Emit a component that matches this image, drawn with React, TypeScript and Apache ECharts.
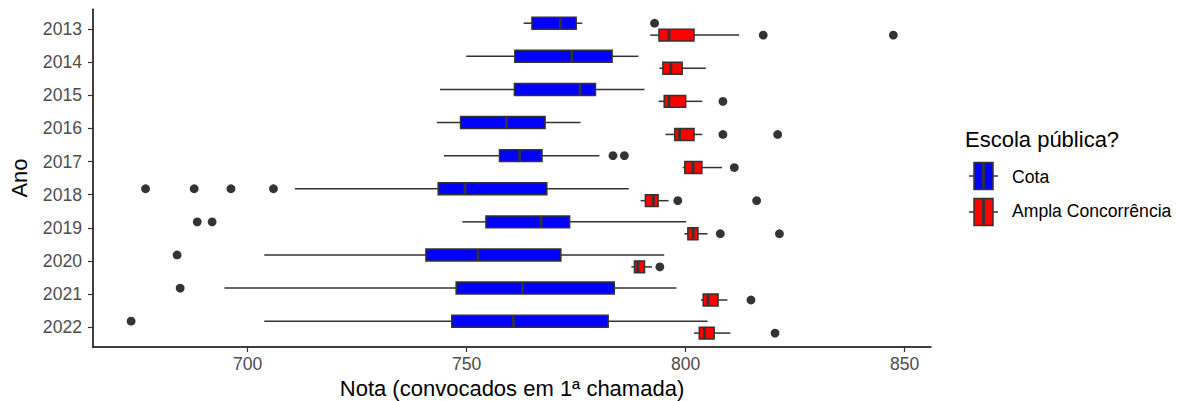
import React, { useEffect, useRef } from "react";
import * as echarts from "echarts";

const years = ["2013", "2014", "2015", "2016", "2017", "2018", "2019", "2020", "2021", "2022"];
const xTicks = [700, 750, 800, 850];

// [low whisker, Q1, median, Q3, high whisker] per year
const cotaStats: number[][] = [
  [763.0, 764.9, 771.4, 775.0, 776.4],
  [749.9, 761.0, 774.0, 783.2, 789.2],
  [743.9, 760.9, 775.9, 779.4, 790.6],
  [743.2, 748.6, 759.1, 767.9, 776.0],
  [744.8, 757.5, 762.1, 767.2, 780.3],
  [710.8, 743.5, 749.6, 768.3, 787.0],
  [749.0, 754.4, 767.0, 773.5, 800.1],
  [703.8, 740.7, 752.6, 771.5, 795.1],
  [694.7, 747.6, 762.8, 783.7, 797.9],
  [703.8, 746.6, 760.7, 782.3, 805.0],
];
const amplaStats: number[][] = [
  [791.9, 793.9, 796.2, 801.9, 812.2],
  [794.0, 794.8, 796.6, 799.2, 804.6],
  [793.8, 795.1, 796.2, 800.0, 803.8],
  [795.4, 797.5, 798.6, 801.9, 803.8],
  [799.3, 799.8, 801.7, 803.7, 808.3],
  [789.7, 790.8, 792.6, 793.7, 796.1],
  [799.7, 800.5, 801.7, 802.8, 805.0],
  [787.6, 788.3, 789.1, 790.6, 792.3],
  [803.5, 804.0, 805.1, 807.4, 809.5],
  [801.9, 803.1, 804.3, 806.5, 810.2],
];
const cotaOutliers: number[][] = [
  [792.9], [], [], [], [783.4, 786.0],
  [676.7, 687.8, 696.2, 705.9], [688.5, 691.9], [683.9], [684.6], [673.4],
];
const amplaOutliers: number[][] = [
  [817.7, 847.4], [], [808.5], [808.5, 821.0], [811.1],
  [798.2, 816.2], [807.9, 821.4], [794.1], [814.9], [820.4],
];

const BLUE = "#0000FF";
const RED = "#FF0000";
const DARK = "#333333";
const FONT = "'Liberation Sans', Arial, sans-serif";
const HALF = 0.18;
const LW = 1.5;

function boxSeries(name: string, stats: number[][], offset: number, color: string) {
  return {
    type: "custom",
    name,
    data: stats.map((s, i) => [i, ...s]),
    encode: { x: [1, 2, 3, 4, 5], y: 0 },
    renderItem: (_p: any, api: any) => {
      const yc = api.value(0) + offset;
      const pl = api.coord([api.value(1), yc]);
      const p1 = api.coord([api.value(2), yc]);
      const pm = api.coord([api.value(3), yc]);
      const p3 = api.coord([api.value(4), yc]);
      const ph = api.coord([api.value(5), yc]);
      const t = api.coord([api.value(2), yc - HALF])[1];
      const b = api.coord([api.value(2), yc + HALF])[1];
      const top = Math.min(t, b);
      const h = Math.abs(b - t);
      return {
        type: "group",
        children: [
          { type: "line", shape: { x1: pl[0], y1: pl[1], x2: p1[0], y2: p1[1] }, style: { stroke: DARK, lineWidth: LW } },
          { type: "line", shape: { x1: p3[0], y1: p3[1], x2: ph[0], y2: ph[1] }, style: { stroke: DARK, lineWidth: LW } },
          { type: "rect", shape: { x: p1[0], y: top, width: p3[0] - p1[0], height: h }, style: { fill: color, stroke: DARK, lineWidth: LW } },
          { type: "line", shape: { x1: pm[0], y1: top, x2: pm[0], y2: top + h }, style: { stroke: DARK, lineWidth: 2.8 } },
        ],
      };
    },
  };
}

function outlierSeries(name: string, outs: number[][], offset: number) {
  const data: number[][] = [];
  outs.forEach((arr, i) => arr.forEach((v) => data.push([v, i])));
  return {
    type: "custom",
    name,
    data,
    encode: { x: 0, y: 1 },
    renderItem: (_p: any, api: any) => {
      const p = api.coord([api.value(0), api.value(1) + offset]);
      return { type: "circle", shape: { cx: p[0], cy: p[1], r: 4.4 }, style: { fill: DARK } };
    },
  };
}

function legendKey(y: number, color: string) {
  const x0 = 974, w = 19, h = 27;
  return [
    { type: "line", shape: { x1: 969, y1: y, x2: x0, y2: y }, style: { stroke: DARK, lineWidth: LW } },
    { type: "line", shape: { x1: x0 + w, y1: y, x2: 998, y2: y }, style: { stroke: DARK, lineWidth: LW } },
    { type: "rect", shape: { x: x0, y: y - h / 2, width: w, height: h }, style: { fill: color, stroke: DARK, lineWidth: LW } },
    { type: "line", shape: { x1: x0 + w / 2, y1: y - h / 2, x2: x0 + w / 2, y2: y + h / 2 }, style: { stroke: DARK, lineWidth: 2.8 } },
  ];
}

export default function App() {
  const ref = useRef<HTMLDivElement>(null);
  useEffect(() => {
    document.body.style.margin = "0";
    if (!ref.current) return;
    const chart = echarts.init(ref.current, null, { renderer: "svg" });
    chart.setOption({
      animation: false,
      backgroundColor: "#FFFFFF",
      grid: { left: 93, right: 251, top: 9.3, bottom: 54 },
      xAxis: {
        type: "value",
        position: "bottom",
        min: 664.7,
        max: 856,
        splitLine: { show: false },
        axisLine: { show: true, onZero: false, lineStyle: { color: "#000", width: 1.5 } },
        axisTick: { show: true, length: 5, customValues: xTicks, lineStyle: { color: DARK, width: 1.2 } },
        axisLabel: { customValues: xTicks, color: "#4D4D4D", fontSize: 17.6, fontFamily: FONT, margin: 8 },
      },
      yAxis: {
        type: "value",
        position: "left",
        inverse: true,
        min: -0.6,
        max: 9.6,
        splitLine: { show: false },
        axisLine: { show: true, onZero: false, lineStyle: { color: "#000", width: 1.5 } },
        axisTick: { show: true, length: 5, customValues: years.map((_, i) => i), lineStyle: { color: DARK, width: 1.2 } },
        axisLabel: {
          customValues: years.map((_, i) => i),
          formatter: (v: number) => years[Math.round(v)],
          color: "#4D4D4D",
          fontSize: 17.6,
          fontFamily: FONT,
          margin: 11,
        },
      },
      graphic: [
        { type: "text", x: 19, y: 178, rotation: Math.PI / 2, style: { text: "Ano", fontSize: 22, fontFamily: FONT, fill: "#000", align: "center", verticalAlign: "middle" } },
        { type: "text", x: 512, y: 388, style: { text: "Nota (convocados em 1ª chamada)", fontSize: 22, fontFamily: FONT, fill: "#000", align: "center", verticalAlign: "middle" } },
        { type: "text", x: 965, y: 139, style: { text: "Escola pública?", fontSize: 22, fontFamily: FONT, fill: "#000", align: "left", verticalAlign: "middle" } },
        ...legendKey(176, BLUE),
        ...legendKey(212, RED),
        { type: "text", x: 1012, y: 177, style: { text: "Cota", fontSize: 17.6, fontFamily: FONT, fill: "#000", align: "left", verticalAlign: "middle" } },
        { type: "text", x: 1012, y: 211, style: { text: "Ampla Concorrência", fontSize: 17.6, fontFamily: FONT, fill: "#000", align: "left", verticalAlign: "middle" } },
      ],
      series: [
        boxSeries("Cota", cotaStats, -HALF, BLUE),
        boxSeries("Ampla Concorrência", amplaStats, HALF, RED),
        outlierSeries("Cota outliers", cotaOutliers, -HALF),
        outlierSeries("Ampla outliers", amplaOutliers, HALF),
      ],
    });
    return () => chart.dispose();
  }, []);
  return <div ref={ref} style={{ width: 1182, height: 401 }} />;
}
